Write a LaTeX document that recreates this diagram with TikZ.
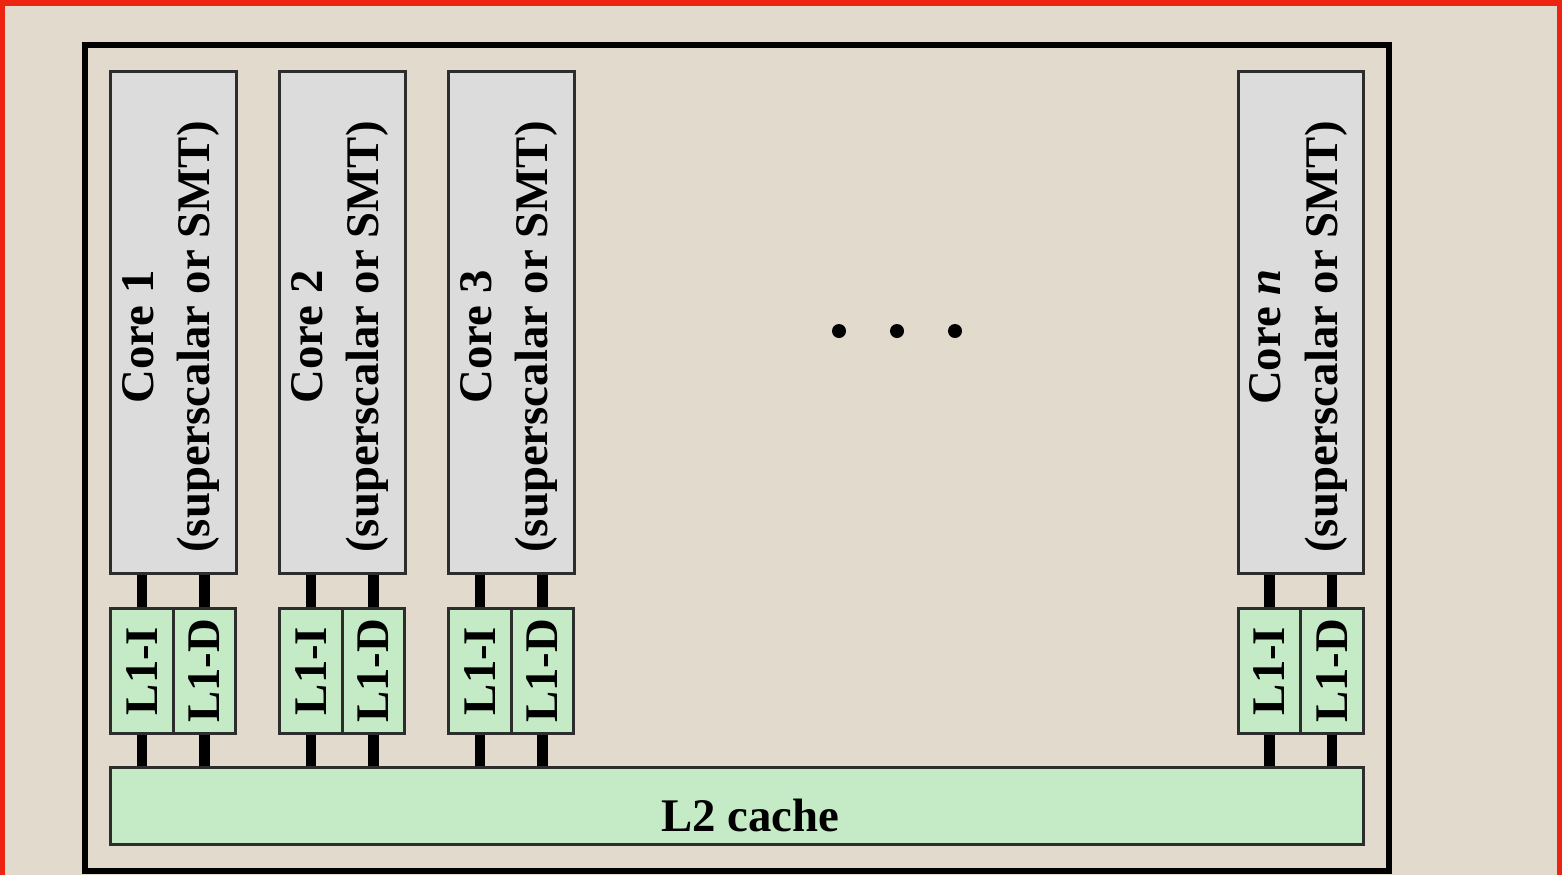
\documentclass[tikz,border=0pt]{standalone}
\usepackage{fontspec}
\setmainfont{Liberation Serif}
\definecolor{paper}{RGB}{226,218,205}
\definecolor{framered}{RGB}{238,36,18}
\definecolor{coregrey}{RGB}{220,220,220}
\definecolor{cachegreen}{RGB}{196,234,198}
\definecolor{boxline}{RGB}{45,45,45}

\begin{document}
\begin{tikzpicture}[x=0.01cm, y=-0.01cm,
    box/.style={draw=boxline, line width=0.85pt, inner sep=0pt},
    core/.style={box, fill=coregrey, minimum width=1.25cm, minimum height=5.01cm},
    cache/.style={box, fill=cachegreen, minimum width=0.625cm, minimum height=1.24cm,
      font=\bfseries\fontsize{13.3}{16}\selectfont, rotate=90},
    txt/.style={font=\bfseries\fontsize{13.3}{16.2}\selectfont, align=center, inner sep=0pt},
    vtxt/.style={txt, rotate=90},
    link/.style={line width=3.1pt, black}]
  \clip (0,0) rectangle (1562,875);
  \fill[paper] (0,0) rectangle (1562,875);
  \draw[framered, line width=1.5pt] (2.6,3) rectangle (1559.4,910);
  \draw[line width=1.45pt] (85,45) rectangle (1389,871);

  % cores
  \node[core] (c1) at (173.5,322.5) {};
  \node[core] (c2) at (342.5,322.5) {};
  \node[core] (c3) at (511.5,322.5) {};
  \node[core] (cn) at (1301,322.5) {};
  \node[vtxt] (t1) at (171,337) {Core 1\\(superscalar or SMT)};
  \node[vtxt] (t2) at (340,337) {Core 2\\(superscalar or SMT)};
  \node[vtxt] (t3) at (509,337) {Core 3\\(superscalar or SMT)};
  \node[vtxt] (tn) at (1298.5,337) {Core \textit{n}\\(superscalar or SMT)};

  % L1 caches (rotated, so width and height swap)
  \node[cache, minimum width=1.24cm, minimum height=0.625cm] (i1) at (142,671) {L1-I};
  \node[cache, minimum width=1.24cm, minimum height=0.625cm] (d1) at (204.5,671) {L1-D};
  \node[cache, minimum width=1.24cm, minimum height=0.625cm] (i2) at (311,671) {L1-I};
  \node[cache, minimum width=1.24cm, minimum height=0.625cm] (d2) at (373.5,671) {L1-D};
  \node[cache, minimum width=1.24cm, minimum height=0.625cm] (i3) at (480,671) {L1-I};
  \node[cache, minimum width=1.24cm, minimum height=0.625cm] (d3) at (542.5,671) {L1-D};
  \node[cache, minimum width=1.24cm, minimum height=0.625cm] (in) at (1269.5,671) {L1-I};
  \node[cache, minimum width=1.24cm, minimum height=0.625cm] (dn) at (1332,671) {L1-D};

  % shared L2
  \node[box, fill=cachegreen, minimum width=12.52cm, minimum height=0.76cm] (l2) at (737,806) {};
  \node[txt] (l2t) at (750,815) {L2 cache};

  % links core -> L1 -> L2
  \draw[link] (c1.south -| i1) -- (i1.east);
  \draw[link] (c1.south -| d1) -- (d1.east);
  \draw[link] (c2.south -| i2) -- (i2.east);
  \draw[link] (c2.south -| d2) -- (d2.east);
  \draw[link] (c3.south -| i3) -- (i3.east);
  \draw[link] (c3.south -| d3) -- (d3.east);
  \draw[link] (cn.south -| in) -- (in.east);
  \draw[link] (cn.south -| dn) -- (dn.east);
  \draw[link] (i1.west) -- (i1.west |- l2.north);
  \draw[link] (d1.west) -- (d1.west |- l2.north);
  \draw[link] (i2.west) -- (i2.west |- l2.north);
  \draw[link] (d2.west) -- (d2.west |- l2.north);
  \draw[link] (i3.west) -- (i3.west |- l2.north);
  \draw[link] (d3.west) -- (d3.west |- l2.north);
  \draw[link] (in.west) -- (in.west |- l2.north);
  \draw[link] (dn.west) -- (dn.west |- l2.north);

  % ellipsis
  \fill (839,331) circle (0.07cm);
  \fill (897,331) circle (0.07cm);
  \fill (955,331) circle (0.07cm);
\end{tikzpicture}
\end{document}
